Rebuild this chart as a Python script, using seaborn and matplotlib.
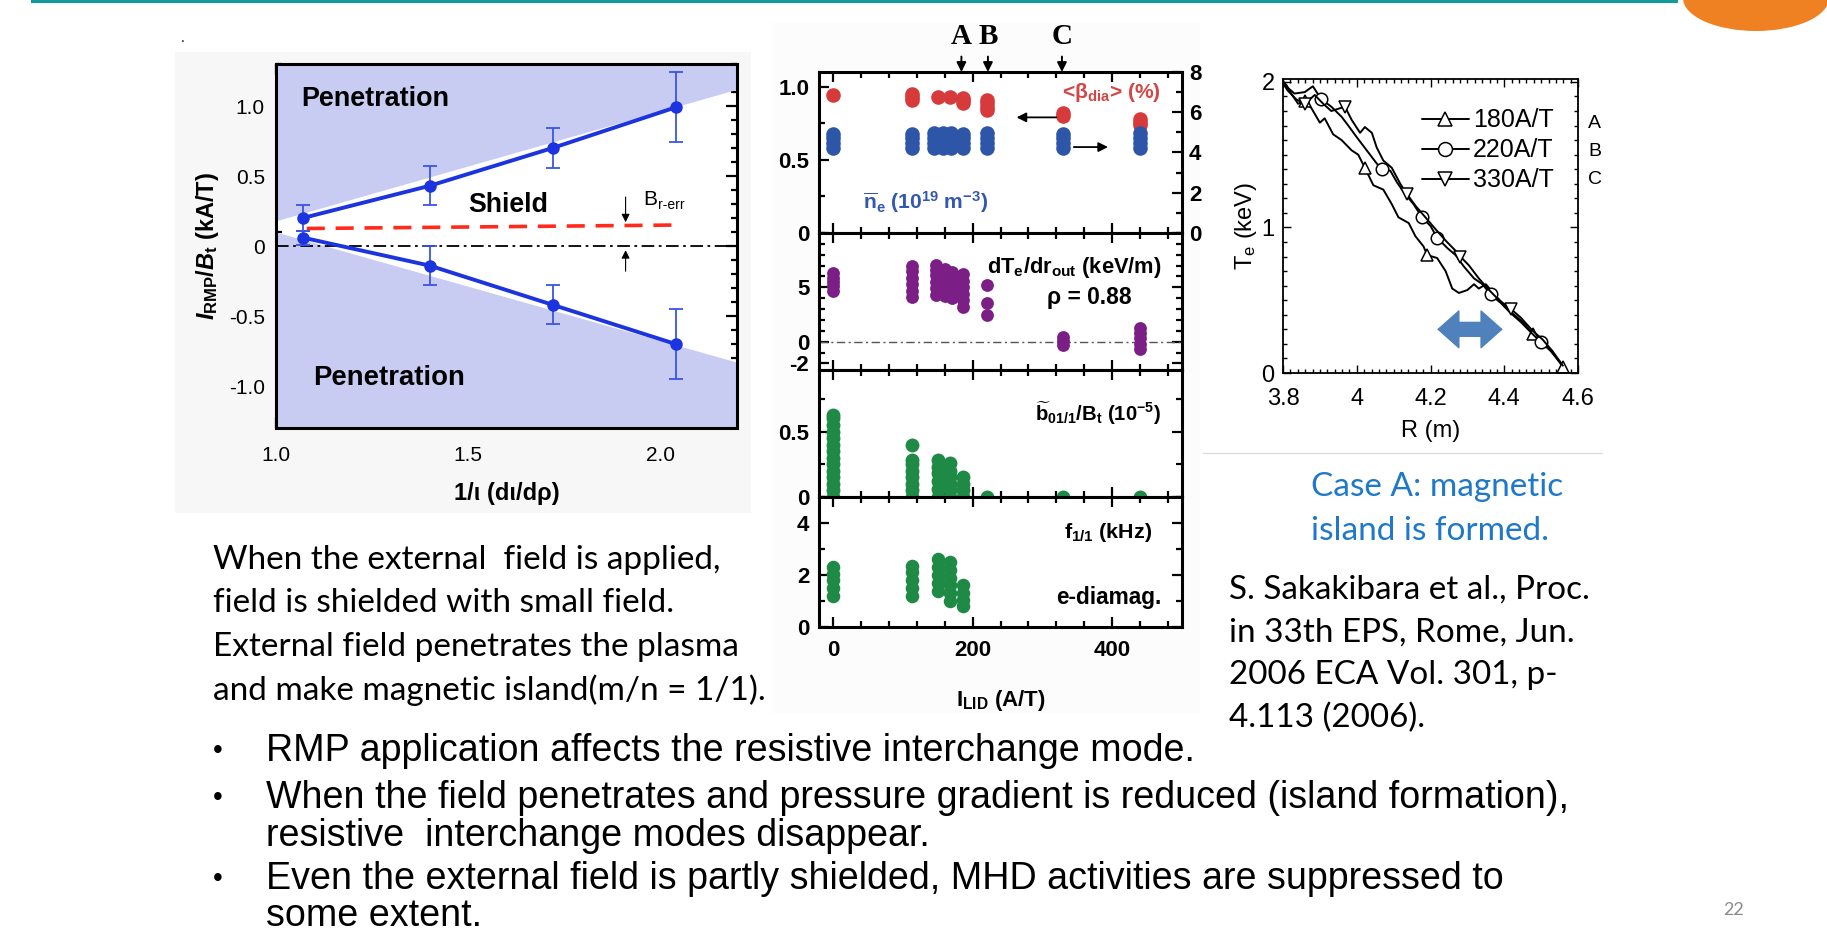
import matplotlib
matplotlib.use("Agg")
import matplotlib.pyplot as plt
import seaborn as sns
import pandas as pd
from matplotlib.ticker import FixedLocator, FixedFormatter, MultipleLocator
from matplotlib.patches import Rectangle, Ellipse, Arc
from matplotlib.lines import Line2D

W, H = 1827, 946

# ---------------- left panel: shielding threshold ----------------
shear_x = [1.07, 1.40, 1.72, 2.04]
upper_thr = [0.20, 0.43, 0.70, 0.99]
upper_err = [0.09, 0.14, 0.14, 0.25]
lower_thr = [0.06, -0.14, -0.42, -0.70]
lower_err = [0.05, 0.14, 0.14, 0.25]
shade_x = [1.0, 2.2]
shade_upper = [0.18, 1.12]
shade_lower = [0.10, -0.83]
berr_x = [1.08, 2.05]
berr_y = [0.125, 0.15]
left_xticks = [1.0, 1.5, 2.0]
left_xlabels = ["1.0", "1.5", "2.0"]
left_yticks = [-1.0, -0.5, 0.0, 0.5, 1.0]
left_ylabels = ["-1.0", "-0.5", "0", "0.5", "1.0"]

# ---------------- middle panels: vs I_LID ----------------
beta_x = [0, 113, 113, 113, 150, 167, 186, 186, 186, 220, 220, 220, 220, 330, 330, 440, 440, 440]
beta_y = [0.94, 0.91, 0.93, 0.95, 0.93, 0.93, 0.89, 0.91, 0.92, 0.84, 0.86, 0.89, 0.91, 0.80, 0.82, 0.74, 0.76, 0.78]

ne_x = [0, 0, 0, 0, 113, 113, 113, 113, 145, 145, 145, 145, 157, 157, 157, 157,
        169, 169, 169, 169, 186, 186, 186, 186, 220, 220, 220, 220, 330, 330, 330, 330,
        440, 440, 440, 440]
ne_y = [4.2, 4.45, 4.7, 4.9, 4.2, 4.45, 4.7, 4.9, 4.2, 4.45, 4.7, 4.95, 4.2, 4.45, 4.7, 4.95,
        4.2, 4.45, 4.7, 4.95, 4.2, 4.45, 4.7, 4.9, 4.2, 4.45, 4.7, 4.95, 4.2, 4.45, 4.7, 4.9,
        4.2, 4.45, 4.7, 4.95]

dte_x = [0, 0, 0, 0, 0, 113, 113, 113, 113, 113, 113, 148, 148, 148, 148, 148, 148,
         160, 160, 160, 160, 160, 170, 170, 170, 170, 170, 186, 186, 186, 186, 186, 186,
         220, 220, 220, 330, 330, 330, 440, 440, 440, 440, 440]
dte_y = [4.7, 5.1, 5.5, 5.9, 6.3, 4.1, 4.7, 5.3, 5.9, 6.5, 7.0, 4.3, 4.9, 5.5, 6.1, 6.6, 7.1,
         4.2, 4.8, 5.4, 6.0, 6.7, 4.0, 4.6, 5.2, 5.8, 6.4, 3.2, 3.8, 4.4, 5.0, 5.6, 6.2,
         2.5, 3.6, 5.2, -0.3, 0.1, 0.4, -0.7, -0.2, 0.3, 0.8, 1.3]

bt_x = [0] * 14 + [113] * 8 + [150] * 6 + [167] * 6 + [186] * 4 + [220, 330, 440]
bt_y = [0.0, 0.05, 0.1, 0.15, 0.2, 0.25, 0.3, 0.35, 0.4, 0.45, 0.5, 0.55, 0.6, 0.63,
        0.0, 0.05, 0.1, 0.15, 0.2, 0.25, 0.28, 0.40,
        0.0, 0.06, 0.12, 0.18, 0.23, 0.28,
        0.0, 0.05, 0.1, 0.15, 0.2, 0.26,
        0.0, 0.05, 0.1, 0.15,
        0.0, 0.0, 0.0]

f_x = [0] * 5 + [113] * 5 + [150] * 5 + [167] * 6 + [186] * 4
f_y = [1.2, 1.5, 1.8, 2.05, 2.3, 1.2, 1.5, 1.8, 2.1, 2.35, 1.4, 1.7, 2.0, 2.3, 2.6,
       1.0, 1.3, 1.6, 1.9, 2.2, 2.5, 0.8, 1.05, 1.3, 1.6]

case_x = [184, 222, 328]
case_labels = ["A", "B", "C"]
mid_xticks = [0, 200, 400]
mid_xlabels = ["0", "200", "400"]

# ---------------- right panel: Te profiles ----------------
rA = [3.800, 3.809, 3.822, 3.841, 3.859, 3.877, 3.900, 3.913, 3.936, 3.959, 3.986, 4.004,
      4.022, 4.045, 4.072, 4.095, 4.113, 4.141, 4.159, 4.181, 4.191, 4.218, 4.241, 4.259,
      4.277, 4.300, 4.318, 4.331, 4.350, 4.377, 4.413, 4.450, 4.477, 4.513, 4.550, 4.559]
teA = [2.00, 1.98, 1.92, 1.85, 1.87, 1.82, 1.72, 1.75, 1.64, 1.60, 1.53, 1.50,
       1.41, 1.29, 1.26, 1.16, 1.07, 1.03, 0.94, 0.87, 0.81, 0.79, 0.70, 0.58,
       0.55, 0.57, 0.61, 0.58, 0.61, 0.53, 0.43, 0.35, 0.27, 0.19, 0.08, 0.04]
rB = [3.800, 3.804, 3.831, 3.859, 3.881, 3.904, 3.931, 3.959, 3.977, 4.000, 4.018, 4.036,
      4.054, 4.068, 4.091, 4.109, 4.131, 4.154, 4.177, 4.200, 4.218, 4.245, 4.268, 4.291,
      4.318, 4.341, 4.363, 4.391, 4.418, 4.445, 4.472, 4.500, 4.527, 4.554]
teB = [2.01, 1.98, 1.92, 1.93, 1.97, 1.88, 1.83, 1.76, 1.70, 1.62, 1.56, 1.50,
       1.44, 1.40, 1.39, 1.31, 1.23, 1.16, 1.07, 1.01, 0.93, 0.86, 0.81, 0.73,
       0.65, 0.61, 0.54, 0.48, 0.41, 0.35, 0.28, 0.21, 0.15, 0.06]
rC = [3.800, 3.813, 3.836, 3.859, 3.886, 3.909, 3.931, 3.968, 3.986, 4.009, 4.022, 4.041,
      4.054, 4.072, 4.095, 4.118, 4.136, 4.159, 4.186, 4.213, 4.241, 4.268, 4.281, 4.304,
      4.331, 4.359, 4.386, 4.418, 4.445, 4.477, 4.504, 4.531, 4.559]
teC = [1.99, 1.94, 1.88, 1.85, 1.91, 1.85, 1.80, 1.83, 1.74, 1.65, 1.69, 1.65,
       1.55, 1.46, 1.41, 1.30, 1.23, 1.15, 1.07, 0.99, 0.91, 0.84, 0.80, 0.74,
       0.65, 0.57, 0.50, 0.44, 0.38, 0.29, 0.23, 0.15, 0.05]
series_labels = ["180A/T", "220A/T", "330A/T"]
right_xticks = [3.8, 4.0, 4.2, 4.4, 4.6]
right_xlabels = ["3.8", "4", "4.2", "4.4", "4.6"]
right_yticks = [0, 1, 2]
right_ylabels = ["0", "1", "2"]

# ---------------- slide text ----------------
desc_lines = ["When the external  field is applied,",
              "field is shielded with small field.",
              "External field penetrates the plasma",
              "and make magnetic island(m/n = 1/1)."]
cite_lines = ["S. Sakakibara et al., Proc.",
              "in 33th EPS, Rome, Jun.",
              "2006 ECA Vol. 301, p-",
              "4.113 (2006)."]
case_lines = ["Case A: magnetic", "island is formed."]
bullet_lines = [("•", "RMP application affects the resistive interchange mode."),
                ("•", "When the field penetrates and pressure gradient is reduced (island formation),"),
                ("", "resistive  interchange modes disappear."),
                ("•", "Even the external field is partly shielded, MHD activities are suppressed to"),
                ("", "some extent.")]

# ---------------- style ----------------
sns.set_theme(style="ticks", rc={
    "axes.edgecolor": "black", "axes.labelcolor": "black", "text.color": "black",
    "xtick.color": "black", "ytick.color": "black",
    "axes.facecolor": "white", "figure.facecolor": "white"})
plt.rcParams["font.family"] = ["Liberation Sans", "DejaVu Sans"]
plt.rcParams.update({
    "mathtext.fontset": "custom",
    "mathtext.rm": "Liberation Sans:bold",
    "mathtext.it": "Liberation Sans:italic:bold",
    "mathtext.bf": "Liberation Sans:bold",
    "mathtext.sf": "Liberation Sans",
})

RED = "#d63a3a"
NBLUE = "#2e56a8"
PURPLE = "#7b1f86"
GREEN = "#1e8a46"
LBLUE = "#1c34e0"
SHADE = "#c9ccf2"

fig = plt.figure(figsize=(W / 100, H / 100), dpi=100)


def rect(x0, y0, x1, y1):
    return [x0 / W, 1 - y1 / H, (x1 - x0) / W, (y1 - y0) / H]


fits = []

# background layer in pixel coordinates
bg = fig.add_axes([0, 0, 1, 1], zorder=-5)
bg.set_xlim(0, W)
bg.set_ylim(H, 0)
bg.axis("off")
bg.add_patch(Rectangle((175, 52), 576, 461, color="#f7f7f7", lw=0))
bg.add_patch(Rectangle((772, 23), 428, 690, color="#fcfcfc", lw=0))
bg.plot([31, 1678], [1.5, 1.5], color="#149a9a", lw=3, solid_capstyle="butt")
bg.add_patch(Ellipse((1756, -2), 146, 66, color="#f08122", lw=0))
bg.add_patch(Arc((1738, -6), 64, 66, theta1=180, theta2=300, color="white", lw=2.5))
bg.add_patch(Arc((1790, -22), 80, 56, theta1=230, theta2=330, color="white", lw=2.0))
bg.plot([1203, 1602], [453, 453], color="#dcdcdc", lw=1)
bg.text(183, 38, ".", fontsize=10, ha="center", va="center")

# ============ left panel ============
axL = fig.add_axes(rect(276, 64, 737, 428))
axL.fill_between(shade_x, shade_upper, [1.3, 1.3], color=SHADE, lw=0)
axL.fill_between(shade_x, [-1.3, -1.3], shade_lower, color=SHADE, lw=0)
axL.axhline(0, color="black", lw=1.3, ls=(0, (7, 2.5, 1.5, 2.5)))
axL.plot(berr_x, berr_y, color="#ff2a1a", lw=2.6, ls=(0, (5, 3)))
axL.errorbar(shear_x, upper_thr, yerr=upper_err, fmt="none", ecolor="#3a55e6",
             elinewidth=1.3, capsize=5, capthick=1.3)
axL.errorbar(shear_x, lower_thr, yerr=lower_err, fmt="none", ecolor="#3a55e6",
             elinewidth=1.3, capsize=5, capthick=1.3)
sns.lineplot(x=shear_x, y=upper_thr, ax=axL, color=LBLUE, lw=2.8, marker="o",
             markersize=9, markeredgewidth=0)
sns.lineplot(x=shear_x, y=lower_thr, ax=axL, color=LBLUE, lw=2.8, marker="o",
             markersize=9, markeredgewidth=0)
axL.annotate("", xy=(1.91, 0.15), xytext=(1.91, 0.37),
             arrowprops=dict(arrowstyle="-|>", color="black", lw=0.8, mutation_scale=12))
axL.annotate("", xy=(1.91, -0.01), xytext=(1.91, -0.2),
             arrowprops=dict(arrowstyle="-|>", color="black", lw=0.8, mutation_scale=12))
axL.text(1.955, 0.335, "B", fontsize=15, ha="left", va="center")
axL.text(1.995, 0.295, "r-err", fontsize=10, ha="left", va="center")
t = axL.text(1.065, 1.05, "Penetration", fontweight="bold", fontsize=17, ha="left", va="center")
fits.append((t, 149))
t = axL.text(1.50, 0.29, "Shield", fontweight="bold", fontsize=17, ha="left", va="center")
fits.append((t, 80))
t = axL.text(1.097, -0.945, "Penetration", fontweight="bold", fontsize=17, ha="left", va="center")
fits.append((t, 151))
axL.set_xlim(1.0, 2.2)
axL.set_ylim(-1.3, 1.3)
axL.xaxis.set_major_locator(FixedLocator(left_xticks))
axL.xaxis.set_major_formatter(FixedFormatter(left_xlabels))
axL.xaxis.set_minor_locator(MultipleLocator(0.1))
axL.yaxis.set_major_locator(FixedLocator(left_yticks))
axL.yaxis.set_major_formatter(FixedFormatter(left_ylabels))
axL.yaxis.set_minor_locator(MultipleLocator(0.1))
axL.tick_params(which="both", direction="in", top=True, right=True, width=1.6, labelsize=15, pad=8)
axL.tick_params(axis="x", pad=13)
axL.tick_params(which="major", length=8)
axL.tick_params(which="minor", length=4)
for s in axL.spines.values():
    s.set_linewidth(2.2)
axL.set_xlabel("1/ι (dι/dρ)", fontweight="bold", fontsize=17, labelpad=12)
axL.set_ylabel(r"$I_{\mathrm{RMP}}/B_{\mathrm{t}}$ (kA/T)", fontweight="bold", fontsize=17, labelpad=6)

# ============ middle panels ============
p1 = fig.add_axes(rect(819, 72, 1182, 233))
p2 = fig.add_axes(rect(819, 233, 1182, 370), sharex=p1)
p3 = fig.add_axes(rect(819, 370, 1182, 497), sharex=p1)
p4 = fig.add_axes(rect(819, 497, 1182, 627), sharex=p1)
p1t = p1.twinx()

sns.scatterplot(x=beta_x, y=beta_y, ax=p1, color=RED, s=110, linewidth=0, zorder=3)
sns.scatterplot(x=ne_x, y=ne_y, ax=p1t, color=NBLUE, s=110, linewidth=0, zorder=3)
sns.scatterplot(x=dte_x, y=dte_y, ax=p2, color=PURPLE, s=85, linewidth=0, zorder=3)
sns.scatterplot(x=bt_x, y=bt_y, ax=p3, color=GREEN, s=100, linewidth=0, zorder=3)
sns.scatterplot(x=f_x, y=f_y, ax=p4, color=GREEN, s=95, linewidth=0, zorder=3)
p2.axhline(0, color="#555555", lw=1.0, ls=(0, (6, 2.5, 1.5, 2.5)), zorder=1)

p1.set_xlim(-20, 500)
p1.set_ylim(0, 1.1)
p1t.set_ylim(0, 8)
p2.set_ylim(-2.6, 10)
p3.set_ylim(0, 0.97)
p4.set_ylim(0, 5)

p1.xaxis.set_major_locator(FixedLocator(mid_xticks))
p1.xaxis.set_major_formatter(FixedFormatter(mid_xlabels))
p1.xaxis.set_minor_locator(MultipleLocator(40))
p1.yaxis.set_major_locator(FixedLocator([0, 0.5, 1.0]))
p1.yaxis.set_major_formatter(FixedFormatter(["0", "0.5", "1.0"]))
p1.yaxis.set_minor_locator(FixedLocator([0.25, 0.75]))
p1t.yaxis.set_major_locator(FixedLocator([0, 2, 4, 6, 8]))
p1t.yaxis.set_major_formatter(FixedFormatter(["0", "2", "4", "6", "8"]))
p1t.yaxis.set_minor_locator(MultipleLocator(1))
p2.yaxis.set_major_locator(FixedLocator([-2, 0, 5]))
p2.yaxis.set_major_formatter(FixedFormatter(["-2", "0", "5"]))
p2.yaxis.set_minor_locator(MultipleLocator(1))
p3.yaxis.set_major_locator(FixedLocator([0, 0.5]))
p3.yaxis.set_major_formatter(FixedFormatter(["0", "0.5"]))
p3.yaxis.set_minor_locator(FixedLocator([0.25, 0.75]))
p4.yaxis.set_major_locator(FixedLocator([0, 2, 4]))
p4.yaxis.set_major_formatter(FixedFormatter(["0", "2", "4"]))
p4.yaxis.set_minor_locator(MultipleLocator(1))

for ax in (p1, p2, p3, p4):
    ax.tick_params(which="both", direction="in", top=True, bottom=True, left=True,
                   right=(ax is not p1), labelright=False, width=1.6, labelsize=16, pad=7)
    ax.tick_params(axis="x", pad=9)
    ax.tick_params(which="major", length=7)
    ax.tick_params(which="minor", length=4)
    ax.set_ylabel("")
    for s in ax.spines.values():
        s.set_linewidth(2.2)
for ax in (p1, p2, p3):
    ax.tick_params(labelbottom=False)
p1t.tick_params(which="both", direction="in", right=True, left=False, top=False, bottom=False,
                width=1.6, labelsize=16, pad=5)
p1t.tick_params(which="major", length=7)
p1t.tick_params(which="minor", length=4)
p1t.set_ylabel("")
for ax in (p1, p2, p3, p4, p1t):
    plt.setp(ax.get_yticklabels(), fontweight="bold")
    plt.setp(ax.get_xticklabels(), fontweight="bold")
p4.set_xlabel(r"I$_{\mathrm{LID}}$ (A/T)", fontweight="bold", fontsize=16, labelpad=20)

p1.annotate("", xy=(259, 0.79), xytext=(324, 0.79),
            arrowprops=dict(arrowstyle="-|>", color="black", lw=1.3, mutation_scale=14))
p1t.annotate("", xy=(398, 4.27), xytext=(341, 4.27),
             arrowprops=dict(arrowstyle="-|>", color="black", lw=1.3, mutation_scale=14))
for cx, cl in zip(case_x, case_labels):
    p1.annotate(cl, xy=(cx, 1.1), xytext=(0, 35), textcoords="offset pixels",
                ha="center", va="center", fontfamily="Liberation Serif", fontweight="bold",
                fontsize=21, annotation_clip=False,
                arrowprops=dict(arrowstyle="-|>", color="black", lw=1.4, mutation_scale=14,
                                shrinkA=2, shrinkB=0))

t = p1.text(328, 0.963, r"<β$_{\mathrm{dia}}$> (%)", color="#d64545", fontweight="bold",
            fontsize=14, ha="left", va="center")
fits.append((t, 99))
t = p1.text(43, 0.21, r"$\overline{\mathrm{n}}_{\mathrm{e}}$ (10$^{\mathrm{19}}$ m$^{\mathrm{-3}}$)",
            color="#3457b0", fontweight="bold", fontsize=14, ha="left", va="center")
fits.append((t, 125))
t = p2.text(220, 6.87, r"dT$_{\mathrm{e}}$/dr$_{\mathrm{out}}$ (keV/m)", fontweight="bold",
            fontsize=14, ha="left", va="center")
fits.append((t, 175))
t = p2.text(306, 4.11, "ρ = 0.88", fontweight="bold", fontsize=14, ha="left", va="center")
fits.append((t, 84))
t = p3.text(290, 0.64, r"$\widetilde{\mathrm{b}}_{\mathrm{01/1}}$/B$_{\mathrm{t}}$ (10$^{\mathrm{-5}}$)",
            fontweight="bold", fontsize=14, ha="left", va="center")
fits.append((t, 126))
t = p4.text(331, 3.65, r"f$_{\mathrm{1/1}}$ (kHz)", fontweight="bold", fontsize=14, ha="left", va="center")
fits.append((t, 88))
t = p4.text(320, 1.12, "e-diamag.", fontweight="bold", fontsize=14, ha="left", va="center")
fits.append((t, 105))

# ============ right panel ============
axR = fig.add_axes(rect(1283, 79, 1578, 373))
markers = ["^", "o", "v"]
marker_idx = [[4, 12, 20, 32, 35], [5, 13, 18, 20, 26, 31], [3, 7, 16, 22, 27]]
for xs, ys, mk, me in zip([rA, rB, rC], [teA, teB, teC], markers, marker_idx):
    sns.lineplot(x=xs, y=ys, ax=axR, sort=False, estimator=None, color="black", lw=1.4,
                 marker=mk, markersize=9, markerfacecolor="white", markeredgecolor="black",
                 markeredgewidth=1.1, markevery=me)
handles = [Line2D([], [], color="black", lw=1.4, marker=mk, markersize=10,
                  markerfacecolor="white", markeredgecolor="black", markeredgewidth=1.1)
           for mk in markers]
axR.legend(handles, series_labels, loc="upper left", bbox_to_anchor=(0.47, 0.9),
           frameon=False, fontsize=18, handlelength=1.9, handletextpad=0.15,
           labelspacing=0.24, borderpad=0, borderaxespad=0)
for i, cl in enumerate(case_labels):
    bg.text(1588, 123 + 28.5 * i, cl, fontsize=14, ha="left", va="center")
# double arrow (blue) marking the island region
axR.annotate("", xy=(4.218, 0.30), xytext=(4.396, 0.30),
             arrowprops=dict(arrowstyle="-", color="#4f81bd", lw=11,
                             shrinkA=12, shrinkB=12))
axR.annotate("", xy=(4.218, 0.30), xytext=(4.396, 0.30),
             arrowprops=dict(arrowstyle="<|-|>,head_length=0.62,head_width=0.55",
                             facecolor="#4f81bd", edgecolor="#4f81bd", lw=1.0,
                             mutation_scale=24, shrinkA=0, shrinkB=0))
axR.set_xlim(3.8, 4.6)
axR.set_ylim(0, 2.02)
axR.xaxis.set_major_locator(FixedLocator(right_xticks))
axR.xaxis.set_major_formatter(FixedFormatter(right_xlabels))
axR.xaxis.set_minor_locator(MultipleLocator(0.02))
axR.yaxis.set_major_locator(FixedLocator(right_yticks))
axR.yaxis.set_major_formatter(FixedFormatter(right_ylabels))
axR.yaxis.set_minor_locator(MultipleLocator(0.1))
axR.tick_params(which="both", direction="in", top=True, right=True, width=1.0, labelsize=17, pad=6)
axR.tick_params(axis="x", pad=11)
axR.tick_params(which="major", length=6)
axR.tick_params(which="minor", length=3)
for s in axR.spines.values():
    s.set_linewidth(1.3)
axR.set_xlabel("R (m)", fontsize=17, labelpad=7)
axR.set_ylabel(r"T$_{\mathsf{e}}$ (keV)", fontsize=17, labelpad=2)

# ============ slide text ============
for i, line in enumerate(desc_lines):
    bg.text(213, 560 + 43.3 * i, line, fontfamily="Lato", fontsize=20, ha="left", va="center")
for i, line in enumerate(cite_lines):
    bg.text(1229, 590 + 42.7 * i, line, fontfamily="Lato", fontsize=20, ha="left", va="center")
for i, line in enumerate(case_lines):
    bg.text(1311, 487 + 44 * i, line, fontfamily="Lato", fontsize=22, color="#1f78c8",
            ha="left", va="center")
bullet_ys = [751, 798, 836, 879, 916]
for (b, line), y in zip(bullet_lines, bullet_ys):
    if b:
        bg.text(218, y, b, fontsize=20, ha="center", va="center")
    bg.text(266, y, line, fontsize=26, ha="left", va="center")
bg.text(1734, 910, "22", fontfamily="Lato", fontsize=13, color="#8a8a8a", ha="center", va="center")

# ---- size texts to the widths measured on the reference ----
renderer = fig.canvas.get_renderer()
for _ in range(2):
    for t, w in fits:
        bb = t.get_window_extent(renderer=renderer)
        if bb.width > 0:
            t.set_fontsize(t.get_fontsize() * w / bb.width)


def fit_group(texts, ref_text, width):
    for _ in range(2):
        bb = ref_text.get_window_extent(renderer=renderer)
        ref_text.set_fontsize(ref_text.get_fontsize() * width / bb.width)
    for tt in texts:
        tt.set_fontsize(ref_text.get_fontsize())


desc_all = [tt for tt in bg.texts if tt.get_text() in desc_lines]
fit_group(desc_all, desc_all[3], 553)
cite_all = [tt for tt in bg.texts if tt.get_text() in cite_lines]
fit_group(cite_all, cite_all[0], 361)
case_all = [tt for tt in bg.texts if tt.get_text() in case_lines]
fit_group(case_all, case_all[0], 252)
bul_all = [tt for tt in bg.texts if tt.get_text() in [bl[1] for bl in bullet_lines]]
fit_group(bul_all, bul_all[0], 929)

fig.savefig("out.png", dpi=100, facecolor="white")
